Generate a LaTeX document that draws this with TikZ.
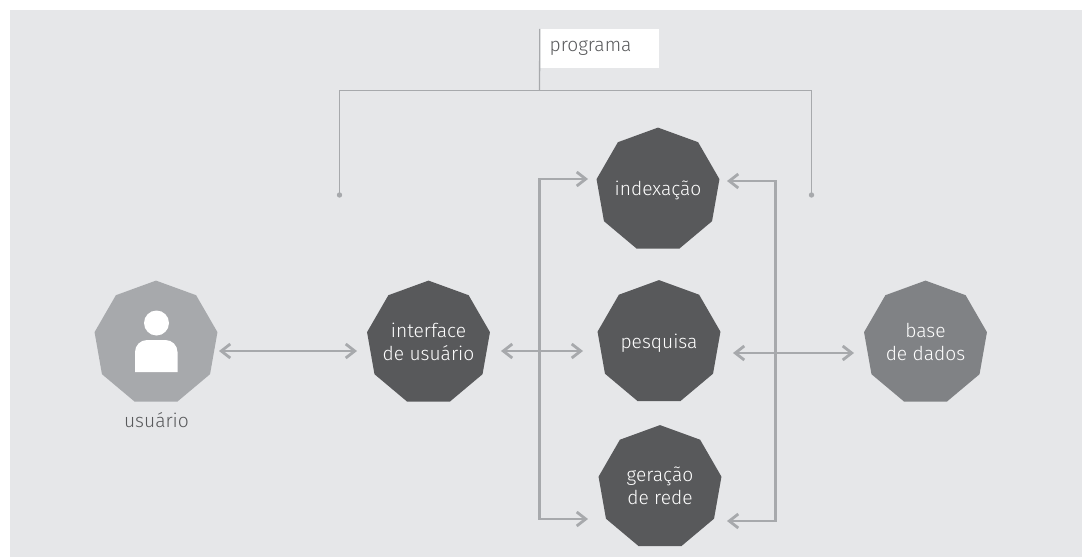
\documentclass[tikz,border=0pt]{standalone}
\usepackage{fontspec}
\setmainfont{Fira Sans}[UprightFont=* Light]
\usetikzlibrary{shapes.geometric,arrows.meta}
\definecolor{bg}{HTML}{E6E7E9}
\definecolor{dark}{HTML}{58595B}
\definecolor{mid}{HTML}{808285}
\definecolor{light}{HTML}{A7A9AC}
\newcommand{\nonatext}[1]{\smash{\makebox[0pt]{\raisebox{-6.5pt}{\begin{tabular}{@{}c@{}}#1\end{tabular}}}}}
\tikzset{
  nona/.style={regular polygon,regular polygon sides=9,minimum size=124.8pt,inner sep=0pt,text=white,font=\fontsize{19.2}{23}\selectfont},
  link/.style={draw=light,line width=2.2pt,{Straight Barb[length=9pt,width=14pt,line width=2.8pt]}-{Straight Barb[length=9pt,width=14pt,line width=2.8pt]}},
  one/.style={draw=light,line width=2.2pt,-{Straight Barb[length=9pt,width=14pt,line width=2.8pt]}},
  bracket/.style={draw=light,line width=1.3pt},
  lab/.style={text=dark,font=\fontsize{19.2}{23}\selectfont}
}
\begin{document}
\begin{tikzpicture}[x=1pt,y=-1pt]
\useasboundingbox (0,0) rectangle (1082,557);
\fill[bg] (10,10) rectangle (1082,557);
\node[nona,fill=light] (user) at (156,343) {};
\node[nona,fill=dark] (ui) at (428.5,343) {\nonatext{interface\\de usuário}};
\node[nona,fill=dark] (idx) at (658,190) {\nonatext{indexação}};
\node[nona,fill=dark] (search) at (659,342.5) {\nonatext{pesquisa}};
\node[nona,fill=dark] (mesh) at (660,487.5) {\nonatext{geração\\de rede}};
\node[nona,fill=mid] (db) at (925.5,343) {\nonatext{base\\de dados}};
\fill[white] (156.5,323) circle (12.5pt);
\fill[white] (135,372) -- (135,352) arc[start angle=180,end angle=90,radius=12pt] -- (165.5,340) arc[start angle=90,end angle=0,radius=12pt] -- (177.5,372) -- cycle;
\node[lab,anchor=base] (ulabel) at (156.5,427.5) {usuário};
\node[fill=white,lab,minimum width=119pt,minimum height=39pt,inner sep=0pt] (prog) at (599.5,48.5) {\hspace*{-18pt}\raisebox{-1.5pt}{programa}};
\coordinate (bl) at (339.5,195);
\coordinate (br) at (811.5,195);
\draw[bracket] (prog.north west) -- (539.5,90.5);
\draw[bracket] (bl) -- (339.5,90.5) -- (811.5,90.5) -- (br);
\fill[light] (bl) circle (2.7pt) (br) circle (2.7pt);
\coordinate (a1) at (219,351); \coordinate (a2) at (357,351);
\draw[link] (a1) -- (a2);
\coordinate (b1) at (501,351); \coordinate (b2) at (583,351);
\draw[link] (b1) -- (b2);
\coordinate (c1) at (733,353); \coordinate (c2) at (854,353);
\draw[link] (c1) -- (c2);
\coordinate (d1) at (539.5,351);
\draw[one] (d1) -- (539.5,179) -- (588,179);
\draw[one] (d1) -- (539.5,519) -- (588,519);
\coordinate (e1) at (775.5,353);
\draw[one] (e1) -- (775.5,181) -- (727,181);
\draw[one] (e1) -- (775.5,521) -- (727,521);
\end{tikzpicture}
\end{document}
